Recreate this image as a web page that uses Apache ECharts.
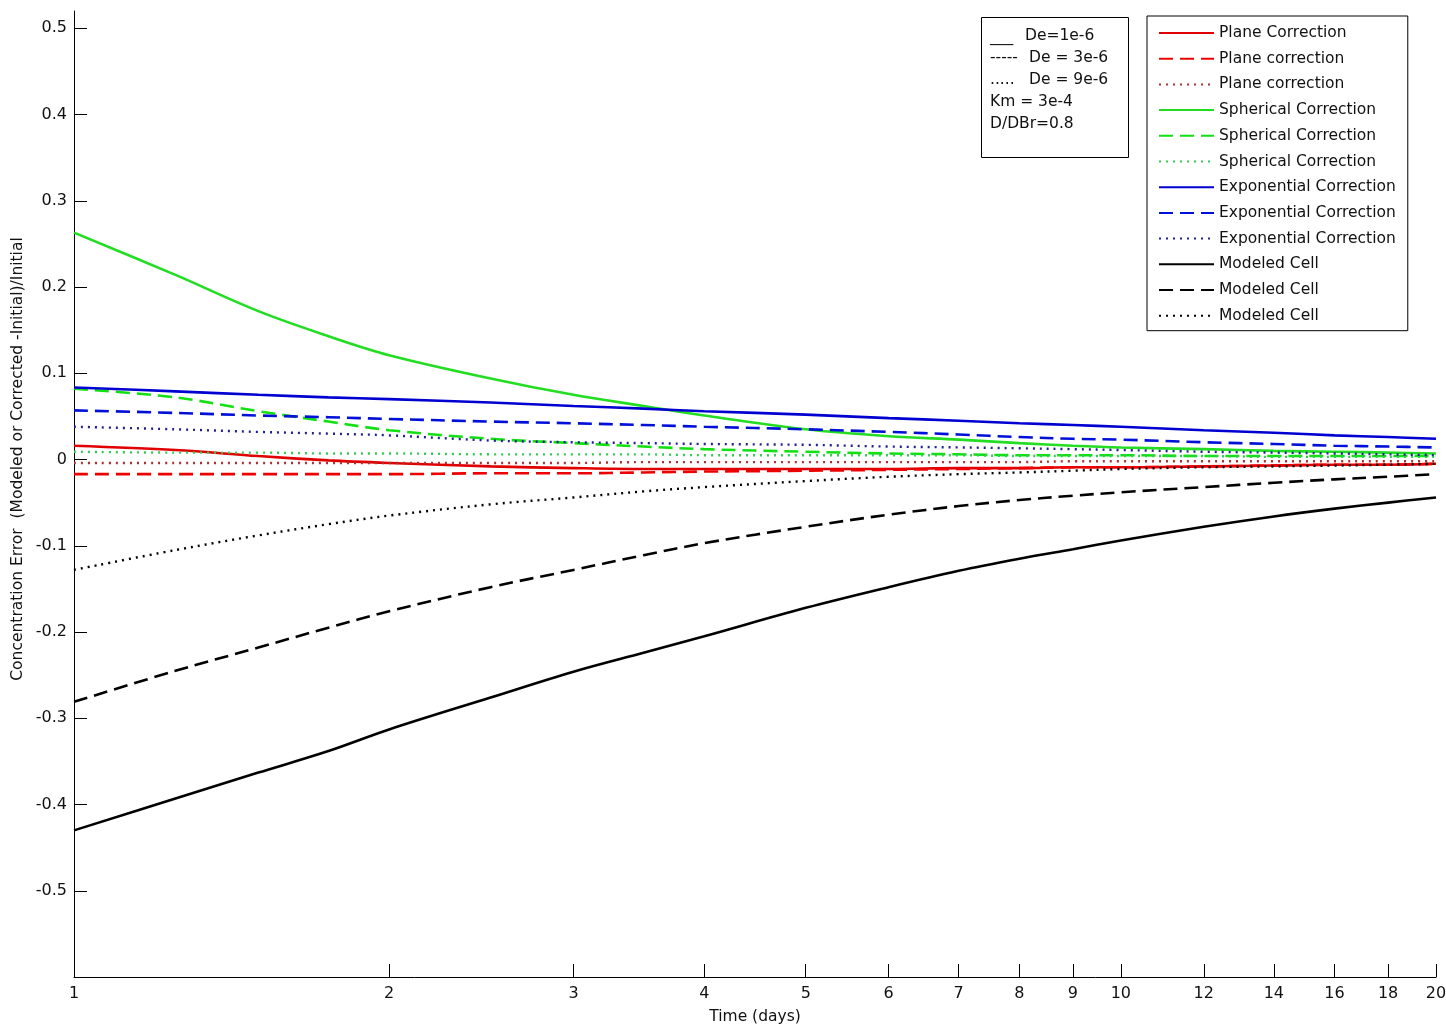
<!DOCTYPE html>
<html><head><meta charset="utf-8">
<script src="https://cdn.jsdelivr.net/npm/echarts@6/dist/echarts.min.js"></script>
<style>html,body{margin:0;padding:0;background:#fff}#chart{width:1446px;height:1026px}</style>
</head><body><div id="chart"></div>
<script>
const days = [1, 1.25, 1.5, 1.75, 2, 2.5, 3, 3.5, 4, 5, 6, 7, 8, 9, 10, 12, 14, 16, 18, 20];

const planeSolid  = [0.016, 0.011, 0.004, -0.001, -0.004, -0.008, -0.010, -0.011, -0.011, -0.011, -0.011, -0.010, -0.010, -0.009, -0.009, -0.008, -0.007, -0.006, -0.006, -0.005];
const planeDashed = [-0.017, -0.017, -0.017, -0.017, -0.017, -0.016, -0.016, -0.015, -0.014, -0.013, -0.012, -0.011, -0.010, -0.009, -0.009, -0.008, -0.007, -0.006, -0.006, -0.005];
const planeDotted = [-0.004, -0.004, -0.004, -0.004, -0.004, -0.004, -0.004, -0.003, -0.003, -0.003, -0.003, -0.003, -0.003, -0.002, -0.002, -0.002, -0.002, -0.002, -0.002, -0.002];

const sphSolid  = [0.263, 0.214, 0.172, 0.143, 0.121, 0.094, 0.075, 0.062, 0.051, 0.035, 0.027, 0.023, 0.019, 0.016, 0.014, 0.012, 0.010, 0.009, 0.008, 0.007];
const sphDashed = [0.082, 0.072, 0.056, 0.044, 0.034, 0.024, 0.019, 0.015, 0.012, 0.009, 0.007, 0.006, 0.005, 0.005, 0.005, 0.004, 0.004, 0.004, 0.004, 0.004];
const sphDotted = [0.009, 0.008, 0.008, 0.007, 0.007, 0.006, 0.006, 0.006, 0.005, 0.005, 0.005, 0.005, 0.004, 0.004, 0.004, 0.004, 0.003, 0.003, 0.003, 0.003];

const expSolid  = [0.0835, 0.079, 0.075, 0.072, 0.070, 0.066, 0.062, 0.059, 0.056, 0.052, 0.048, 0.045, 0.042, 0.040, 0.038, 0.034, 0.031, 0.028, 0.026, 0.024];
const expDashed = [0.057, 0.054, 0.051, 0.049, 0.047, 0.044, 0.042, 0.040, 0.038, 0.035, 0.032, 0.029, 0.026, 0.024, 0.023, 0.020, 0.018, 0.016, 0.015, 0.014];
const expDotted = [0.038, 0.035, 0.032, 0.030, 0.028, 0.022, 0.020, 0.019, 0.018, 0.017, 0.015, 0.014, 0.013, 0.012, 0.011, 0.009, 0.008, 0.007, 0.006, 0.005];

const cellSolid  = [-0.430, -0.393, -0.363, -0.338, -0.313, -0.276, -0.246, -0.224, -0.205, -0.172, -0.148, -0.129, -0.115, -0.104, -0.094, -0.078, -0.066, -0.057, -0.050, -0.044];
const cellDashed = [-0.281, -0.245, -0.218, -0.195, -0.176, -0.148, -0.128, -0.111, -0.097, -0.078, -0.064, -0.054, -0.047, -0.042, -0.038, -0.032, -0.027, -0.023, -0.020, -0.017];
const cellDotted = [-0.128, -0.105, -0.088, -0.075, -0.065, -0.052, -0.044, -0.037, -0.032, -0.025, -0.020, -0.017, -0.015, -0.013, -0.011, -0.009, -0.008, -0.007, -0.006, -0.005];

const xTicks = [1, 2, 3, 4, 5, 6, 7, 8, 9, 10, 12, 14, 16, 18, 20];
const yTicks = [-0.5, -0.4, -0.3, -0.2, -0.1, 0, 0.1, 0.2, 0.3, 0.4, 0.5];

const seriesNames = ['Plane Correction', 'Plane correction', 'Plane correction ',
  'Spherical Correction', 'Spherical Correction ', 'Spherical Correction  ',
  'Exponential Correction', 'Exponential Correction ', 'Exponential Correction  ',
  'Modeled Cell', 'Modeled Cell ', 'Modeled Cell  '];
const seriesValues = [planeSolid, planeDashed, planeDotted, sphSolid, sphDashed, sphDotted,
  expSolid, expDashed, expDotted, cellSolid, cellDashed, cellDotted];

const infoLines = ['De=1e-6', 'De = 3e-6', 'De = 9e-6', 'Km = 3e-4', 'D/DBr=0.8'];
const infoMarks = ['___', '-----', '.....'];
const xTitle = 'Time (days)';
const yTitle = 'Concentration Error  (Modeled or Corrected -Initial)/Initial';

const colors = ['#e00000', '#ee0000', '#b03030', '#22dd22', '#11e011', '#33cc55', '#0000d0', '#0010d8', '#202090', '#000000', '#000000', '#000000'];
const dashes = ['solid', [14, 7], [2, 5]];
const widths = [2.6, 2.6, 2.4];

const FONT = 'DejaVu Sans';
const TXT = '#111';

const series = seriesNames.map((name, i) => ({
  name: name,
  type: 'line',
  symbol: 'none',
  smooth: 0.35,
  data: days.map((d, j) => [d, seriesValues[i][j]]),
  lineStyle: { color: colors[i], width: widths[i % 3], type: dashes[i % 3] },
  itemStyle: { color: colors[i] },
  emphasis: { disabled: true }
}));

const textStyle = (s) => Object.assign({ font: '15.5px ' + FONT, fill: TXT, verticalAlign: 'middle' }, s);
const graphic = [
  { type: 'rect', shape: { x: 981.5, y: 17.5, width: 147, height: 140 }, style: { fill: '#fff', stroke: '#000', lineWidth: 1 }, z: 100 },
  { type: 'text', x: 990, y: 37, style: textStyle({ text: infoMarks[0] }), z: 101 },
  { type: 'text', x: 1025, y: 36, style: textStyle({ text: infoLines[0] }), z: 101 },
  { type: 'text', x: 990, y: 58, style: textStyle({ text: infoMarks[1] }), z: 101 },
  { type: 'text', x: 1029, y: 58, style: textStyle({ text: infoLines[1] }), z: 101 },
  { type: 'text', x: 990, y: 80, style: textStyle({ text: infoMarks[2] }), z: 101 },
  { type: 'text', x: 1029, y: 80, style: textStyle({ text: infoLines[2] }), z: 101 },
  { type: 'text', x: 990, y: 102, style: textStyle({ text: infoLines[3] }), z: 101 },
  { type: 'text', x: 990, y: 124, style: textStyle({ text: infoLines[4] }), z: 101 },
  { type: 'text', x: 18, y: 459, rotation: Math.PI / 2, style: textStyle({ text: yTitle, align: 'center' }), z: 101 }
];

const chart = echarts.init(document.getElementById('chart'), null, { renderer: 'canvas' });
chart.setOption({
  animation: false,
  backgroundColor: '#fff',
  grid: { left: 74, right: 10, top: 11, bottom: 49, containLabel: false, outerBoundsMode: 'none' },
  xAxis: {
    type: 'log', logBase: 10, min: 1, max: 20,
    name: xTitle, nameLocation: 'middle', nameGap: 32,
    nameTextStyle: { fontFamily: FONT, fontSize: 15.5, color: TXT },
    axisLine: { show: true, onZero: false, lineStyle: { color: '#000', width: 1 } },
    axisTick: { show: true, inside: true, length: 13, customValues: xTicks, lineStyle: { color: '#000' } },
    axisLabel: { customValues: xTicks, margin: 9, fontFamily: FONT, fontSize: 16, color: TXT, formatter: v => String(Math.round(v)) },
    splitLine: { show: false }, minorTick: { show: false }, minorSplitLine: { show: false }
  },
  yAxis: {
    type: 'value', min: -0.6, max: 0.52,
    axisLine: { show: true, onZero: false, lineStyle: { color: '#000', width: 1 } },
    axisTick: { show: true, inside: true, length: 13, customValues: yTicks, lineStyle: { color: '#000' } },
    axisLabel: { customValues: yTicks, margin: 7, fontFamily: FONT, fontSize: 16, color: TXT, formatter: v => (Math.abs(v) < 1e-9 ? '0' : v.toFixed(1)) },
    splitLine: { show: false }
  },
  legend: {
    orient: 'vertical', left: 1147, top: 16,
    padding: [9, 12, 7, 11],
    itemWidth: 55, itemHeight: 16, itemGap: 9.7,
    borderColor: '#000', borderWidth: 1, backgroundColor: '#fff',
    itemStyle: { color: 'rgba(0,0,0,0)', borderWidth: 0, opacity: 0 },
    textStyle: { fontFamily: FONT, fontSize: 15.5, color: TXT },
    formatter: n => n.trim(),
    selectedMode: false,
    data: seriesNames
  },
  graphic: graphic,
  series: series
});
</script>
</body></html>
